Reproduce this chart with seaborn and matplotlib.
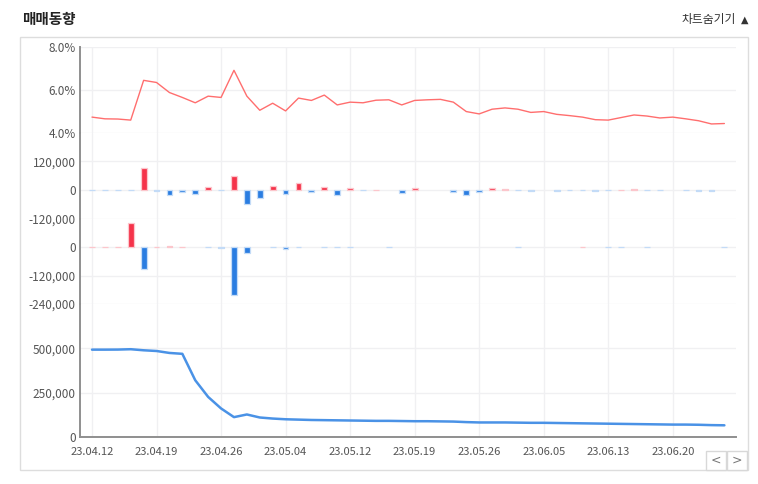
import numpy as np
import pandas as pd
import matplotlib
matplotlib.use("Agg")
import matplotlib.pyplot as plt
from matplotlib.patches import Rectangle
import matplotlib.colors as mcolors
import seaborn as sns

# ---------------- data ----------------
dates = ["23.04.12", "23.04.13", "23.04.14", "23.04.17", "23.04.18", "23.04.19", "23.04.20", "23.04.21",
         "23.04.24", "23.04.25", "23.04.26", "23.04.27", "23.04.28",
         "23.05.02", "23.05.03", "23.05.04", "23.05.08", "23.05.09", "23.05.10", "23.05.11", "23.05.12",
         "23.05.15", "23.05.16", "23.05.17", "23.05.18", "23.05.19", "23.05.22", "23.05.23", "23.05.24",
         "23.05.25", "23.05.26", "23.05.30", "23.05.31",
         "23.06.01", "23.06.02", "23.06.05", "23.06.07", "23.06.08", "23.06.09", "23.06.12", "23.06.13",
         "23.06.14", "23.06.15", "23.06.16", "23.06.19", "23.06.20", "23.06.21", "23.06.22", "23.06.23",
         "23.06.26"]

ratio_pct = [4.72, 4.64, 4.63, 4.58, 6.44, 6.34, 5.87, 5.64, 5.39, 5.70,
             5.64, 6.91, 5.70, 5.04, 5.37, 5.01, 5.61, 5.50, 5.75, 5.29,
             5.42, 5.39, 5.51, 5.53, 5.29, 5.50, 5.53, 5.55, 5.42, 4.98,
             4.87, 5.09, 5.15, 5.09, 4.94, 4.98, 4.85, 4.79, 4.72, 4.60,
             4.58, 4.70, 4.82, 4.77, 4.68, 4.72, 4.64, 4.55, 4.40, 4.42]

flow_a = [-800, -800, -800, -800, 90000, -5000, -23000, -11000, -16000, 10000,
          -800, 60000, -61000, -34000, 14000, -19000, 28000, -7000, 10000, -23000,
          6000, -1000, 1000, 0, -12000, 7000, 0, 0, -7000, -23000,
          -7000, 6000, 1500, -1000, -5000, 0, -5000, -1000, -1000, -5000,
          -1000, 1000, 1500, -1000, -1000, 0, -1000, -5000, -5000, 0]

flow_b = [1000, 1000, 1000, 102000, -94000, 1000, 5000, 1500, 0, -1000,
          -4000, -203000, -24000, 0, -1000, -7000, -1000, 0, -1000, -1000,
          -1000, 0, 0, -1000, 0, 0, 0, 0, 0, 0,
          0, 0, 0, -1000, 0, 0, 0, 0, 1500, 0,
          -1000, -1000, 0, -1000, 0, 0, 0, 0, 0, -1000]

holdings = [492600, 492600, 493000, 495000, 489000, 485000, 474000, 469000, 320000, 226000,
            161000, 112000, 127000, 110000, 104000, 100000, 98000, 96000, 95000, 94000,
            93000, 92000, 91000, 91000, 90000, 89000, 89000, 88000, 87000, 84000,
            82000, 82000, 82000, 81000, 80000, 80000, 79000, 78000, 77000, 76000,
            75000, 74000, 73000, 72000, 71000, 70000, 70000, 69000, 67000, 66000]

tick_every = 5
pct_ticks = [4, 6, 8]
flow_a_ticks = [-120000, 0, 120000]
flow_b_ticks = [-240000, -120000, 0]
hold_ticks = [0, 250000, 500000]

# ---------------- style ----------------
sns.set_theme(style="white")
plt.rcParams["font.family"] = ["Noto Sans CJK KR", "DejaVu Sans"]

RED_LINE = "#ff6e6e"
BLUE_LINE = "#4a92e6"
RED_BAR = "#f5334a"
BLUE_BAR = "#2a7de1"
GRID = "#f0f0f2"
SPINE = "#8f8f8f"
TICK_TXT = "#555555"

W, H = 758, 484
fig = plt.figure(figsize=(W / 100, H / 100), dpi=100)

def px_axes(top, bottom, left=80, right=736):
    return fig.add_axes([left / W, 1 - bottom / H, (right - left) / W, (bottom - top) / H])

ax0 = px_axes(47, 132.5)
ax1 = px_axes(132.5, 218.5)
ax2 = px_axes(218.5, 304)
ax3 = px_axes(304, 437)
axes = [ax0, ax1, ax2, ax3]

idx = np.arange(len(dates))
df = pd.DataFrame({"idx": idx, "date": dates, "ratio": ratio_pct,
                   "flow_a": flow_a, "flow_b": flow_b, "holdings": holdings})

# lines
sns.lineplot(data=df, x="idx", y="ratio", ax=ax0, color=RED_LINE, linewidth=1.0)
sns.lineplot(data=df, x="idx", y="holdings", ax=ax3, color=BLUE_LINE, linewidth=1.8)

# bars
def draw_bars(ax, col):
    d = df[["idx", col]].copy()
    d["sign"] = np.where(d[col] > 0, "up", np.where(d[col] < 0, "down", "zero"))
    sns.barplot(data=d, x="idx", y=col, hue="sign", native_scale=True, dodge=False,
                palette={"up": RED_BAR, "down": BLUE_BAR, "zero": (1, 1, 1, 0)},
                width=0.45, legend=False, ax=ax, errorbar=None, saturation=1)
    for p in ax.patches:
        fc = mcolors.to_rgba(p.get_facecolor())
        if fc[3] == 0:
            p.set_edgecolor("none")
            continue
        light = tuple(0.72 + 0.28 * c for c in fc[:3])
        p.set_edgecolor(light)
        p.set_linewidth(0.9)

draw_bars(ax1, "flow_a")
draw_bars(ax2, "flow_b")

# axes formatting
limits = [(4, 8), (-120000, 240000), (-240000, 120000), (0, 750000)]
ticks = [pct_ticks, flow_a_ticks, flow_b_ticks, hold_ticks]
xt = idx[::tick_every]
for ax, lim, tk in zip(axes, limits, ticks):
    ax.set_xlim(-0.93, 49.9)
    ax.set_ylim(*lim)
    ax.set_yticks(tk)
    ax.set_xticks(xt)
    ax.set_xlabel("")
    ax.set_ylabel("")
    ax.set_facecolor("none")
    ax.grid(True, axis="both", color=GRID, linewidth=1.0)
    ax.set_axisbelow(True)
    for s in ["top", "right", "bottom"]:
        ax.spines[s].set_visible(False)
    ax.spines["left"].set_color(SPINE)
    ax.spines["left"].set_linewidth(1.4)
    ax.tick_params(axis="y", length=0, labelsize=8.5, labelcolor=TICK_TXT, pad=3)
    ax.tick_params(axis="x", length=0, labelbottom=False)

ax0.set_yticklabels([f"{v:.1f}%" for v in pct_ticks])
ax1.set_yticklabels([f"{v:,}" for v in flow_a_ticks])
ax2.set_yticklabels([f"{v:,}" for v in flow_b_ticks])
ax3.set_yticklabels([f"{v:,}" for v in hold_ticks])

ax3.spines["bottom"].set_visible(True)
ax3.spines["bottom"].set_color(SPINE)
ax3.spines["bottom"].set_linewidth(1.4)
ax3.set_xticklabels([dates[i] for i in xt])
ax3.tick_params(axis="x", length=4, color="#cfcfd8", labelbottom=True,
                labelsize=8, labelcolor=TICK_TXT, pad=3)

# frame, title, controls
fig.patches.append(Rectangle((20 / W, 1 - 470 / H), 728 / W, 433 / H, transform=fig.transFigure,
                             fill=False, edgecolor="#dddddd", linewidth=1.0))
fig.text(22 / W, 1 - 19 / H, "매매동향", fontsize=10.5, fontweight="bold", color="#222222",
         ha="left", va="center")
fig.text(736 / W, 1 - 20 / H, "차트숨기기", fontsize=8.5, color="#333333",
         ha="right", va="center")
fig.text(748 / W, 1 - 20 / H, "▲", fontsize=7, color="#333333",
         ha="right", va="center", family=["DejaVu Sans"])
for x0, ch in [(706, "<"), (727, ">")]:
    fig.patches.append(Rectangle((x0 / W, 1 - 470 / H), 20 / W, 19 / H, transform=fig.transFigure,
                                 fill=True, facecolor="white", edgecolor="#d8d8d8", linewidth=1.0))
    fig.text((x0 + 10) / W, 1 - 460.5 / H, ch, fontsize=9, color="#777777",
             ha="center", va="center", family=["DejaVu Sans"])

fig.savefig("out.png", dpi=100)
